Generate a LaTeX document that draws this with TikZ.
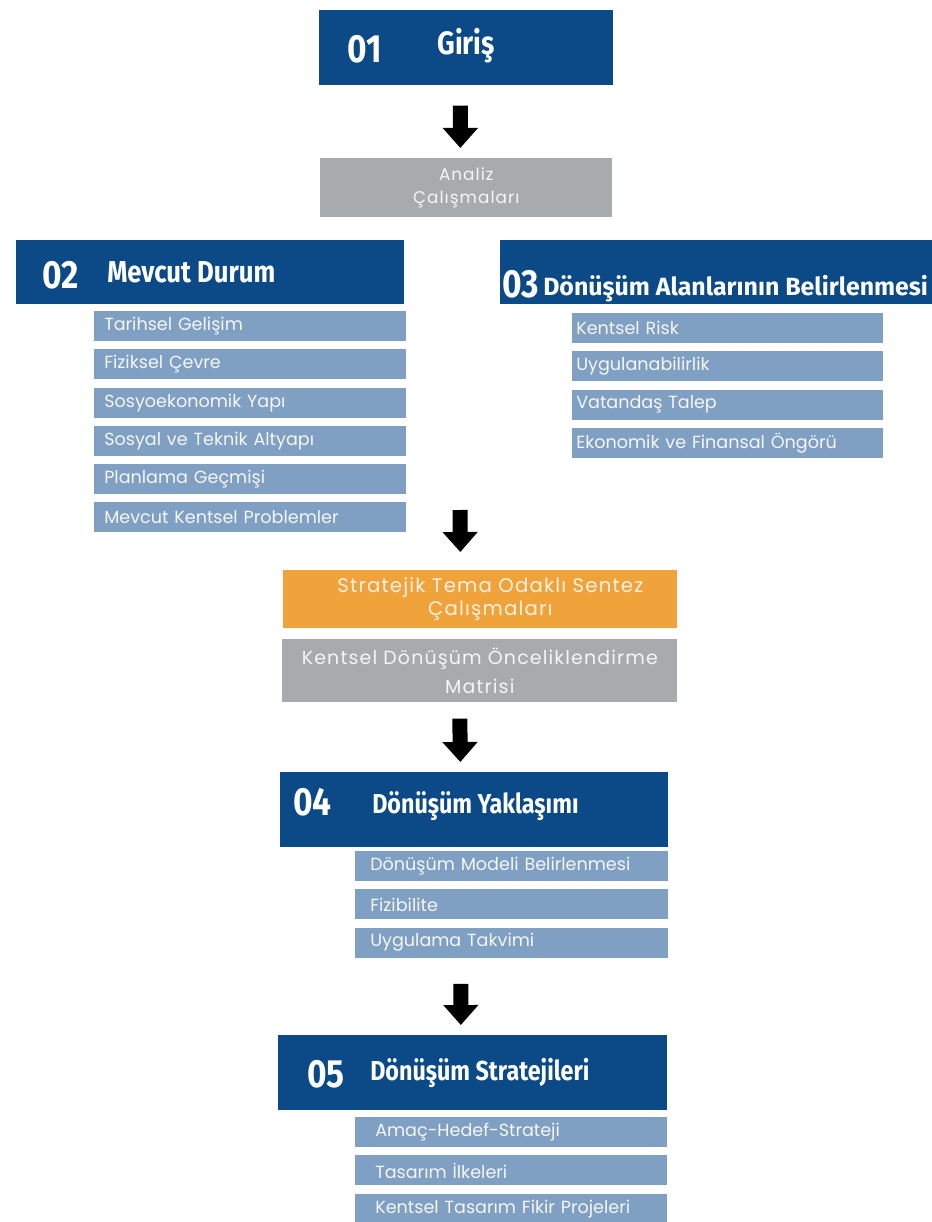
\documentclass[tikz,border=0pt]{standalone}
\usepackage{fontspec}
\setmainfont{Poppins}
\newfontfamily\headfont[FakeStretch=0.85]{Fira Sans}
\newfontfamily\widefont{Fira Sans}
\newfontfamily\boxfont[LetterSpace=6]{Poppins}
\usetikzlibrary{positioning,arrows.meta}

\definecolor{hdblue}{HTML}{0B4A86}
\definecolor{itemblue}{HTML}{7F9FC3}
\definecolor{anagrey}{HTML}{A8ABAE}
\definecolor{sentorange}{HTML}{F0A23B}

\begin{document}
\begin{tikzpicture}[
    x=0.025cm, y=-0.025cm,
    node distance=0.19cm,
    head/.style={fill=hdblue, anchor=north west, inner sep=0pt},
    num/.style={anchor=base west, inner sep=0pt, text=white, font=\headfont\bfseries\fontsize{28}{28}\selectfont},
    ttl/.style={anchor=base west, inner sep=0pt, text=white, font=\headfont\bfseries\fontsize{#1}{#1}\selectfont},
    item/.style 2 args={fill=itemblue, text=white!92!itemblue, font=\fontsize{12.5}{12.5}\selectfont, align=left,
      minimum height=0.75cm, inner ysep=0pt, text width=#1, inner xsep=#2, anchor=north west},
    stage/.style={anchor=north west, inner sep=0pt, align=center, font=\boxfont},
    blockarr/.style={line width=0.375cm, -{Triangle[length=0.5cm, width=0.85cm]}}
  ]
    \useasboundingbox[fill=white] (0,0) rectangle (932,1222);

    % 01
    \node[head, minimum width=7.35cm, minimum height=1.875cm] (giris) at (319,10) {};
    \node[num] (n01) at (347,63) {01};
    \node[ttl=23] (t01) at (437,55) {Giriş};

    \node[stage, fill=anagrey, text=white!88!anagrey, minimum width=7.3cm, minimum height=1.475cm,
      font=\boxfont\fontsize{12}{16}\selectfont] (analiz) at (320,158) {\rule{0pt}{0.3cm}Analiz\\Çalışmaları};

    % 02
    \node[head, minimum width=9.7cm, minimum height=1.6cm] (mevcut) at (16,240) {};
    \node[num] (n02) at (42,288) {02};
    \node[ttl=21.5] (t02) at (107,282) {Mevcut Durum};

    \node[item={7.3cm}{0.25cm}] (tarih) at (94,311) {Tarihsel Gelişim};
    \node[item={7.3cm}{0.25cm}, below=of tarih] (fizik) {Fiziksel Çevre};
    \node[item={7.3cm}{0.25cm}, below=of fizik] (sosyo) {Sosyoekonomik Yapı};
    \node[item={7.3cm}{0.25cm}, below=of sosyo] (altyapi) {Sosyal ve Teknik Altyapı};
    \node[item={7.3cm}{0.25cm}, below=of altyapi] (plan) {Planlama Geçmişi};
    \node[item={7.3cm}{0.25cm}, below=of plan] (prob) {Mevcut Kentsel Problemler};

    % 03
    \node[head, minimum width=10.8cm, minimum height=1.6cm] (alan) at (500,240) {};
    \node[num] (n03) at (502,297) {03};
    \node[anchor=base west, inner sep=0pt, text=white, font=\widefont\bfseries\fontsize{17.7}{17.7}\selectfont] (t03) at (543,295) {Dönüşüm Alanlarının Belirlenmesi};

    \node[item={7.575cm}{0.1cm}] (risk) at (572,313) {Kentsel Risk};
    \node[item={7.575cm}{0.1cm}, below=of risk] (uygun) {Uygulanabilirlik};
    \node[item={7.575cm}{0.1cm}, below=of uygun] (talep) {Vatandaş Talep};
    \node[item={7.575cm}{0.1cm}, below=of talep] (ongoru) {Ekonomik ve Finansal Öngörü};

    % sentez + matris
    \coordinate (split) at (460,510);
    \node[stage, fill=sentorange, text=white!85!sentorange, minimum width=9.85cm, minimum height=1.45cm,
      font=\boxfont\fontsize{14}{16}\selectfont] (sentez) at (283,570) {\hspace*{0.5cm}Stratejik Tema Odaklı Sentez\\\hspace*{0.5cm}Çalışmaları};
    \node[stage, fill=anagrey, text=white!88!anagrey, minimum width=9.875cm, minimum height=1.575cm,
      font=\boxfont\fontsize{13.5}{21}\selectfont] (matris) at (282,639) {\rule{0pt}{0.3cm}Kentsel Dönüşüm Önceliklendirme\\Matrisi};

    % 04
    \node[head, minimum width=9.7cm, minimum height=1.875cm] (yaklasim) at (280,772) {};
    \node[num] (n04) at (293,815) {04};
    \node[ttl=19.5] (t04) at (372,813) {Dönüşüm Yaklaşımı};

    \node[item={7.075cm}{0.375cm}] (model) at (355,851) {Dönüşüm Modeli Belirlenmesi};
    \node[item={7.075cm}{0.375cm}, below=of model] (fizib) {Fizibilite};
    \node[item={7.075cm}{0.375cm}, below=of fizib] (takvim) {Uygulama Takvimi};

    % 05
    \node[head, minimum width=9.725cm, minimum height=1.875cm] (strateji) at (278,1035) {};
    \node[num] (n05) at (307,1087) {05};
    \node[ttl=19.5] (t05) at (370,1080) {Dönüşüm Stratejileri};

    \node[item={6.8cm}{0.5cm}] (amac) at (355,1117) {Amaç-Hedef-Strateji};
    \node[item={6.8cm}{0.5cm}, below=of amac] (ilke) {Tasarım İlkeleri};
    \node[item={6.8cm}{0.5cm}, below=of ilke] (fikir) {Kentsel Tasarım Fikir Projeleri};

    % arrows
    \draw[blockarr] ([xshift=-0.15cm, yshift=-0.5cm]giris.south) -- ([xshift=-0.15cm, yshift=0.25cm]analiz.north);
    \draw[blockarr] (split) -- ([xshift=-0.5cm, yshift=0.45cm]sentez.north);
    \draw[blockarr] ([xshift=-0.5cm, yshift=-0.4cm]matris.south) -- ([xshift=-0.35cm, yshift=0.25cm]yaklasim.north);
    \draw[blockarr] ([xshift=-1.275cm, yshift=-0.65cm]takvim.south) -- ([xshift=-0.3cm, yshift=0.25cm]strateji.north);
  \end{tikzpicture}
\end{document}
